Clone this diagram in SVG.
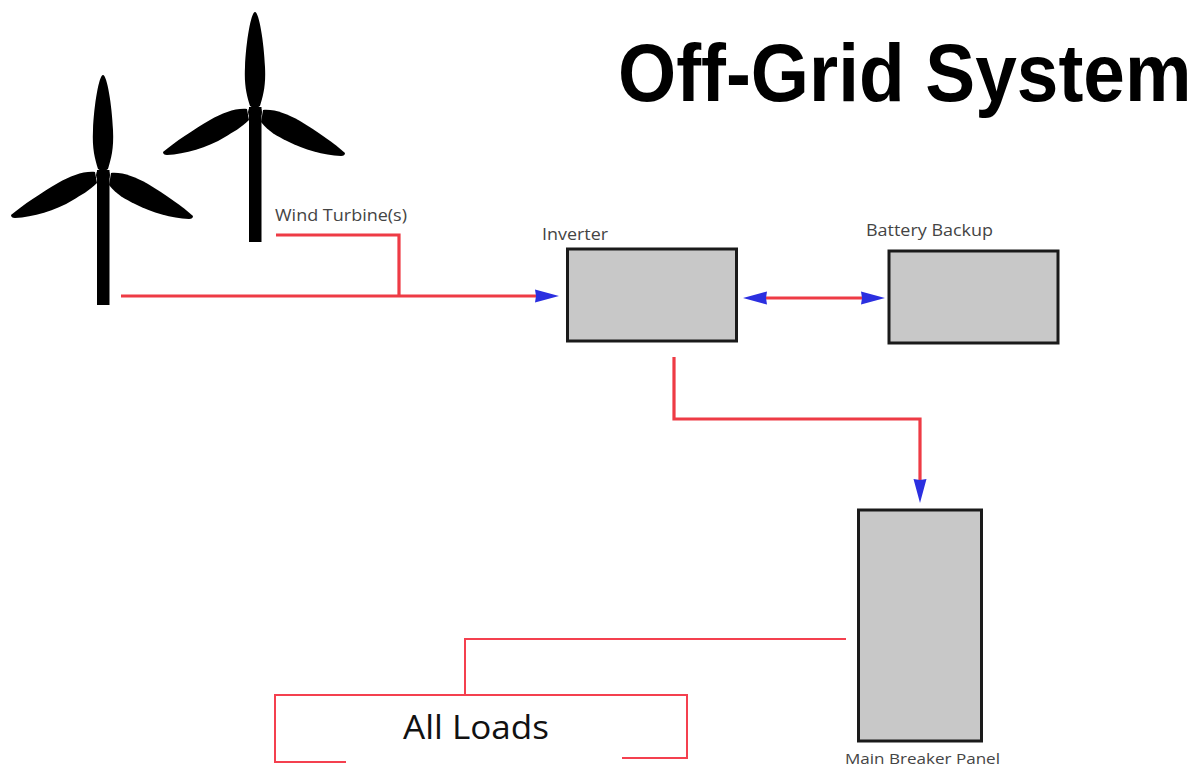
<svg xmlns="http://www.w3.org/2000/svg" width="1200" height="768" viewBox="0 0 1200 768">
<style>
.box{fill:#c8c8c8;stroke:#1a1a1a;stroke-width:3}
.wire{fill:none;stroke:#ee3b45;stroke-width:3.200}
.thin{fill:none;stroke:#f4404f;stroke-width:2}
.lbl{font-family:"Open Sans","Liberation Sans",sans-serif;fill:#444}
.title{font-family:"Liberation Sans",Arial,sans-serif;font-weight:700;font-size:82px;fill:#000}
.loads{font-family:"Open Sans","Liberation Sans",sans-serif;font-size:33px;fill:#111}
</style>
<defs>
<marker id="arrow" markerUnits="userSpaceOnUse" markerWidth="26" markerHeight="16" refX="4" refY="8" orient="auto-start-reverse">
<path d="M0,1.500 L24,8 L0,14.500 L1,8 Z" fill="#2b2fe0"/>
</marker>
<g id="turbine">
<rect x="-6" y="-5" width="12.500" height="135"/>
<circle cx="0" cy="0" r="7"/>
<path d="M-5,-6 C-8,-16 -11,-26 -10,-45 C-9,-70 -4,-100 0,-100 C4,-100 9,-70 10,-45 C11,-26 8,-16 5,-6 Z"/>
<path d="M-8,-3 C-20,-4 -32,1 -45,8 C-62,18 -80,30 -92,40 Q-92,43 -88,43 C-70,42 -48,36 -30,25 C-22,20 -14,16 -6,8 Z"/>
<path d="M8,-2 C20,-3 32,2 45,9 C62,19 80,32 90,41 Q90,44 86,44 C68,43 50,38 32,29 C22,24 14,20 6,10 Z"/>
</g>
</defs>
<rect width="1200" height="768" fill="#fff"/>
<g id="connectors">
<path class="wire" d="M121,296 H539" marker-end="url(#arrow)"/>
<path class="wire" d="M276,235 H399 V296"/>
<path class="wire" d="M763,298 H865" marker-start="url(#arrow)" marker-end="url(#arrow)"/>
<path class="wire" d="M674,357 V419 H920 V483" marker-end="url(#arrow)"/>
<path class="thin" d="M846,639 H465 V695"/>
<path class="thin" d="M346,762 H275 V695 H687 V758 H622"/>
</g>
<g id="turbine-front"><use href="#turbine" x="103" y="175"/></g>
<g id="turbine-back"><use href="#turbine" x="255" y="112"/></g>
<g id="wind-label"><text class="lbl" x="275" y="221" font-size="16" textLength="132" lengthAdjust="spacingAndGlyphs">Wind Turbine(s)</text></g>
<g id="inverter"><rect class="box" x="567.500" y="249" width="169" height="92"/>
<text class="lbl" x="542" y="240" font-size="16" textLength="66" lengthAdjust="spacingAndGlyphs">Inverter</text></g>
<g id="battery"><rect class="box" x="889" y="251" width="169" height="92"/>
<text class="lbl" x="866" y="236" font-size="16" textLength="127" lengthAdjust="spacingAndGlyphs">Battery Backup</text></g>
<g id="panel"><rect class="box" x="858.500" y="510" width="123" height="231"/>
<text class="lbl" x="845" y="764" font-size="15" textLength="155" lengthAdjust="spacingAndGlyphs">Main Breaker Panel</text></g>
<g id="loads"><text class="loads" x="403" y="739" textLength="146" lengthAdjust="spacingAndGlyphs">All Loads</text></g>
<text class="title" transform="translate(618,101) scale(.912,1)">Off-Grid System</text>
</svg>
